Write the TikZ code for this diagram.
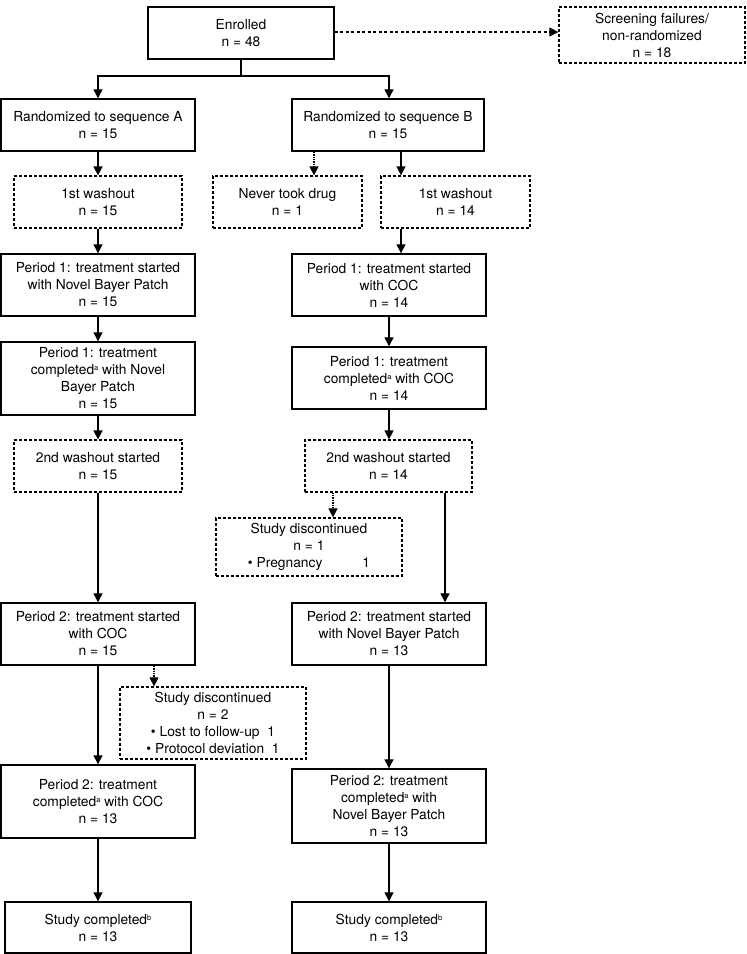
\documentclass[tikz,border=0pt]{standalone}
\usepackage{fontspec}
\setmainfont{TeX Gyre Heros}
\usetikzlibrary{arrows.meta}
\newcommand{\supmark}[1]{\raisebox{0.55ex}{\fontsize{7.5}{7.5}\selectfont #1}}
\begin{document}
\begin{tikzpicture}[x=1pt,y=-1pt,
  box/.style={draw, line width=1.4pt, align=center, inner sep=0pt,
    font=\fontsize{13.8}{17}\selectfont},
  dbox/.style={box, line width=1.2pt, dash pattern=on 3pt off 2pt},
  arr/.style={-{Triangle[length=9pt,width=9pt]}, line width=1.3pt},
  darr/.style={arr, line width=1.1pt, dash pattern=on 1.4pt off 1pt},
  harr/.style={arr, line width=1.2pt, dash pattern=on 3pt off 2.5pt}]
\useasboundingbox (0,0) rectangle (747,954);
% row 1
\node[box, minimum width=186pt, minimum height=52pt] (enr) at (241,33) {Enrolled\\n = 48};
\node[dbox, minimum width=186pt, minimum height=56pt] (scr) at (652,35) {Screening failures/\\non-randomized\\n = 18};
% row 2
\node[box, minimum width=194pt, minimum height=52pt] (ra) at (98,125) {Randomized to sequence A\\n = 15};
\node[box, minimum width=192pt, minimum height=52pt] (rb) at (388,125) {Randomized to sequence B\\n = 15};
% row 3
\node[dbox, minimum width=168pt, minimum height=52pt] (w1a) at (98,202) {1st washout\\n = 15};
\node[dbox, minimum width=149pt, minimum height=52pt] (ntd) at (287.5,202) {Never took drug\\n = 1};
\node[dbox, minimum width=149pt, minimum height=52pt] (w1b) at (455.5,202) {1st washout\\n = 14};
% row 4
\node[box, minimum width=194pt, minimum height=62pt] (p1sa) at (98,285) {Period 1: treatment started\\with Novel Bayer Patch\\n = 15};
\node[box, minimum width=194pt, minimum height=62pt] (p1sb) at (389,285) {Period 1: treatment started\\with COC\\n = 14};
% row 5
\node[box, minimum width=194pt, minimum height=73pt] (p1ca) at (98,378.5) {Period 1: treatment\\completed\supmark{a} with Novel\\Bayer Patch\\n = 15};
\node[box, minimum width=194pt, minimum height=62pt] (p1cb) at (389,378) {Period 1: treatment\\completed\supmark{a} with COC\\n = 14};
% row 6
\node[dbox, minimum width=168pt, minimum height=52pt] (w2a) at (98,466) {2nd washout started\\n = 15};
\node[dbox, minimum width=167pt, minimum height=52pt] (w2b) at (388.5,466) {2nd washout started\\n = 14};
\node[dbox, minimum width=186pt, minimum height=58pt] (dcb) at (309,547) {Study discontinued\\n = 1\\\textbullet\ Pregnancy\hspace{2.9em}1};
% row 7
\node[box, minimum width=194pt, minimum height=62pt] (p2sa) at (98,634) {Period 2: treatment started\\with COC\\n = 15};
\node[box, minimum width=194pt, minimum height=62pt] (p2sb) at (389,634) {Period 2: treatment started\\with Novel Bayer Patch\\n = 13};
\node[dbox, minimum width=186pt, minimum height=72pt] (dca) at (213,723) {Study discontinued\\n = 2\\\textbullet\ Lost to follow-up\ \ 1\\\textbullet\ Protocol deviation\ \ 1};
% row 8
\node[box, minimum width=194pt, minimum height=73pt] (p2ca) at (98,801.5) {Period 2: treatment\\completed\supmark{a} with COC\\n = 13};
\node[box, minimum width=194pt, minimum height=74pt] (p2cb) at (389,806) {Period 2: treatment\\completed\supmark{a} with\\Novel Bayer Patch\\n = 13};
% row 9
\node[box, minimum width=186pt, minimum height=51pt] (sca) at (98,927.5) {Study completed\supmark{b}\\n = 13};
\node[box, minimum width=194pt, minimum height=51pt] (scb) at (389,927.5) {Study completed\supmark{b}\\n = 13};
% junction
\coordinate (j) at (241,76);
% connectors
\draw[harr] (enr.east |- 0,32) -- (scr.west |- 0,32);
\draw[line width=1.3pt] (enr.south) -- (j);
\draw[arr] (j) -| (ra.north);
\draw[arr] (j) -| (rb.north -| 389,0);
\draw[arr] (ra.south) -- (w1a.north);
\draw[darr] (rb.south -| 314,0) -- (ntd.north -| 314,0);
\draw[arr] (rb.south -| 401,0) -- (w1b.north -| 401,0);
\draw[arr] (w1a.south) -- (p1sa.north);
\draw[arr] (w1b.south -| 401,0) -- (p1sb.north -| 401,0);
\draw[arr] (p1sa.south) -- (p1ca.north);
\draw[arr] (p1sb.south) -- (p1cb.north);
\draw[arr] (p1ca.south) -- (w2a.north);
\draw[arr] (p1cb.south) -- (w2b.north -| 389,0);
\draw[arr] (w2a.south) -- (p2sa.north);
\draw[darr] (w2b.south -| 333,0) -- (dcb.north -| 333,0);
\draw[arr] (w2b.south -| 445,0) -- (p2sb.north -| 445,0);
\draw[darr] (p2sa.south -| 154,0) -- (dca.north -| 154,0);
\draw[arr] (p2sa.south) -- (p2ca.north);
\draw[arr] (p2sb.south) -- (p2cb.north);
\draw[arr] (p2ca.south) -- (sca.north);
\draw[arr] (p2cb.south) -- (scb.north);
\end{tikzpicture}
\end{document}
